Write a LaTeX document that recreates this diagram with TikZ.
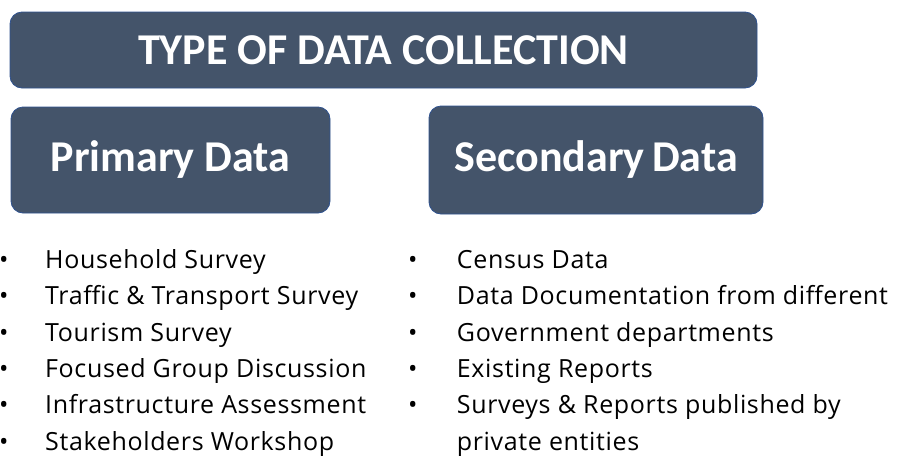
\documentclass[tikz,border=0pt]{standalone}
\usepackage{fontspec}
\setmainfont{Carlito}
\newfontfamily\listfont[LetterSpace=2.6]{Open Sans}
\usetikzlibrary{positioning}
\definecolor{boxfill}{HTML}{44546A}
\definecolor{boxline}{HTML}{2F528F}
\tikzset{head box/.style={rectangle,rounded corners=12pt,draw=boxline,line width=0.8pt,fill=boxfill,text=white,inner sep=0pt,font=\fontsize{44}{44}\selectfont\bfseries},
list item/.style={anchor=north west,inner sep=0pt,text height=24pt,text depth=12pt,font=\listfont\fontsize{25}{30}\selectfont},}
\newcommand{\bul}[1]{\makebox[#1][l]{\textbullet}}

\begin{document}
\begin{tikzpicture}[x=1pt, y=-1pt]
   \useasboundingbox (0,0) rectangle (908,456);
   \node[head box, minimum width=747pt, minimum height=76pt] (type) at (383.5,50) {TYPE OF DATA COLLECTION};
   \node[head box, minimum width=319pt, minimum height=106pt] (prim) at (170.5,160) {Primary Data};
   \node[head box, minimum width=334pt, minimum height=108pt] (sec) at (596,160) {Secondary\,Data};
   % primary list
   \node[list item] (p1) at (-1,244) {\bul{46pt}Household Survey};
   \node[list item] (p2) [below = 0pt of p1.south west, anchor=north west] {\bul{46pt}Traffic \& Transport Survey};
   \node[list item] (p3) [below = 0pt of p2.south west, anchor=north west] {\bul{46pt}Tourism Survey};
   \node[list item] (p4) [below = 0pt of p3.south west, anchor=north west] {\bul{46pt}Focused Group Discussion};
   \node[list item] (p5) [below = 0pt of p4.south west, anchor=north west] {\bul{46pt}Infrastructure Assessment};
   \node[list item, text depth=6pt] (p6) [below = 0pt of p5.south west, anchor=north west] {\bul{46pt}Stakeholders Workshop};
   % secondary list
   \node[list item] (s1) at (408,244) {\bul{48.7pt}Census Data};
   \node[list item] (s2) [below = 0pt of s1.south west, anchor=north west] {\bul{48.7pt}Data Documentation from different};
   \node[list item] (s3) [below = 0pt of s2.south west, anchor=north west] {\bul{48.7pt}Government departments};
   \node[list item] (s4) [below = 0pt of s3.south west, anchor=north west] {\bul{48.7pt}Existing Reports};
   \node[list item] (s5) [below = 0pt of s4.south west, anchor=north west] {\bul{48.7pt}Surveys \& Reports published by};
   \node[list item, text depth=6pt] (s6) [below = 0pt of s5.south west, anchor=north west] {\hspace{48.7pt}private entities};
\end{tikzpicture}
\end{document}
